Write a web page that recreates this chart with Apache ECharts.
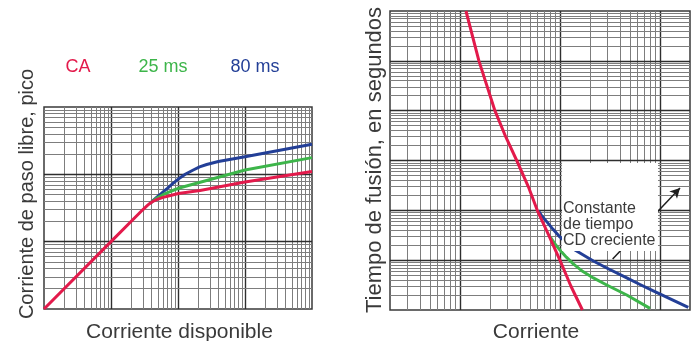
<!DOCTYPE html>
<html>
<head>
<meta charset="utf-8">
<script src="https://cdn.jsdelivr.net/npm/echarts@6/dist/echarts.min.js"></script>
<style>
  html, body { margin: 0; padding: 0; background: #fff; }
  #chart { width: 697px; height: 341px; }
</style>
</head>
<body>
<div id="chart"></div>
<script>
// ---- Left panel: peak let-through current vs. available current (log-log) ----
const caLetThroughX   = [1, 10, 30, 35, 38, 42, 48, 60, 80, 101, 213, 1000, 10000];
const caLetThroughY   = [1, 10, 30, 34.5, 37, 39.5, 42, 45.5, 49, 52, 57.5, 77, 110];
const dc25LetThroughX = [38, 42, 48, 58, 70, 85, 101, 1000, 10000];
const dc25LetThroughY = [37, 40, 44, 49, 53.5, 58, 62, 116, 177];
const dc80LetThroughX = [38, 42, 48, 55, 60, 70, 85, 101, 130, 169, 210, 268, 400, 1000, 10000];
const dc80LetThroughY = [37, 40.5, 45.5, 51, 55, 62.5, 74, 85, 101, 116, 129, 140, 155, 183, 280];

// ---- Right panel: melting time vs. current (log-log) ----
const caMeltX   = [11.5, 15.5, 22.4, 28.7, 37, 48.3, 59.4, 78.3, 100, 129, 168];
const caMeltY   = [1000, 100, 10, 3, 1, 0.3, 0.1, 0.03, 0.01, 0.003, 0.001];
const dc25MeltX = [79.6, 88, 100, 116, 136, 170, 216, 294, 466, 796];
const dc25MeltY = [0.0297, 0.022, 0.016, 0.0115, 0.0084, 0.0059, 0.0044, 0.00318, 0.002, 0.00108];
const dc80MeltX = [60.8, 66, 73.8, 85, 100, 136, 216, 294, 466, 632, 859, 1923];
const dc80MeltY = [0.0986, 0.077, 0.0593, 0.042, 0.0292, 0.0168, 0.00964, 0.00697, 0.0044, 0.00325, 0.00241, 0.00113];

// Axis extents and log-paper decades
const leftXRange  = [1, 10000];
const leftYRange  = [1, 1000];
const rightXRange = [2, 2000];
const rightYRange = [0.001, 1000];
const leftXDecades  = [1, 10, 100, 1000];
const leftYDecades  = [1, 10, 100];
const rightXDecades = [1, 10, 100, 1000];
const rightYDecades = [0.001, 0.01, 0.1, 1, 10, 100];
const minorSteps = [2, 3, 4, 5, 6, 7, 8, 9];

// Text
const seriesNames = ['CA', '25 ms', '80 ms'];
const leftXTitle  = 'Corriente disponible';
const leftYTitle  = 'Corriente de paso libre, pico';
const rightXTitle = 'Corriente';
const rightYTitle = 'Tiempo de fusión, en segundos';
const noteText    = 'Constante\nde tiempo\nCD creciente';

// Annotation anchors (data coordinates, right panel)
const noteBoxCorners = [[105, 0.895], [957, 0.0153]];
const arrowEnds = [[337, 0.0106], [1589, 0.282]];

const RED = '#e31a4b', GREEN = '#3db54a', BLUE = '#233f97';
const TEXT = '#3a3a3a';
const FONT = '"Liberation Sans", Arial, sans-serif';

const zip = (xs, ys) => xs.map((x, i) => [x, ys[i]]);

// Log-paper rulings: one segment per decade line and per 2..9 subdivision
function paperLines(xDecades, yDecades, xr, yr) {
  const inside = (v, r) => v > r[0] * 1.0001 && v < r[1] * 0.9999;
  const out = [];
  const major = { color: '#2e2e2e', width: 1.4 };
  const minor = { color: '#7d7d7d', width: 1 };
  xDecades.forEach(d => {
    if (inside(d, xr)) out.push({ coords: [[d, yr[0]], [d, yr[1]]], lineStyle: major });
    minorSteps.forEach(k => {
      const v = d * k;
      if (inside(v, xr)) out.push({ coords: [[v, yr[0]], [v, yr[1]]], lineStyle: minor });
    });
  });
  yDecades.forEach(d => {
    if (inside(d, yr)) out.push({ coords: [[xr[0], d], [xr[1], d]], lineStyle: major });
    minorSteps.forEach(k => {
      const v = d * k;
      if (inside(v, yr)) out.push({ coords: [[xr[0], v], [xr[1], v]], lineStyle: minor });
    });
  });
  return out;
}

function curve(name, data, color, axis) {
  return {
    name, type: 'line', data,
    xAxisIndex: axis, yAxisIndex: axis,
    showSymbol: false, smooth: false,
    lineStyle: { color, width: 3, join: 'round', cap: 'butt' },
    itemStyle: { color },
    z: 5, silent: true
  };
}

function rulings(data, axis) {
  return {
    type: 'lines', coordinateSystem: 'cartesian2d',
    xAxisIndex: axis, yAxisIndex: axis,
    data, silent: true, z: 1,
    lineStyle: { opacity: 1 }
  };
}

const hiddenAxis = (range, gridIndex) => ({
  type: 'log', logBase: 10, min: range[0], max: range[1], gridIndex,
  axisLine: { show: false }, axisTick: { show: false },
  axisLabel: { show: false }, splitLine: { show: false }
});

const chart = echarts.init(document.getElementById('chart'), null, { renderer: 'canvas' });

const titleText = (text, x, y, size, rot) => ({
  type: 'text', x, y, rotation: rot || 0, z: 120,
  style: { text, font: `${size}px ${FONT}`, fill: TEXT, align: 'center', verticalAlign: 'middle' }
});
const legendText = (text, x, color) => ({
  type: 'text', x, y: 67, z: 120,
  style: { text, font: `18px ${FONT}`, fill: color, align: 'center', verticalAlign: 'middle' }
});

chart.setOption({
  animation: false,
  backgroundColor: '#fff',
  grid: [
    { left: 44, top: 107, width: 268, height: 202, show: true, borderColor: '#3a3a3a', borderWidth: 1.5, backgroundColor: '#fff' },
    { left: 390, top: 11, width: 300, height: 299, show: true, borderColor: '#3a3a3a', borderWidth: 1.5, backgroundColor: '#fff' }
  ],
  xAxis: [hiddenAxis(leftXRange, 0), hiddenAxis(rightXRange, 1)],
  yAxis: [hiddenAxis(leftYRange, 0), hiddenAxis(rightYRange, 1)],
  series: [
    rulings(paperLines(leftXDecades, leftYDecades, leftXRange, leftYRange), 0),
    rulings(paperLines(rightXDecades, rightYDecades, rightXRange, rightYRange), 1),
    curve(seriesNames[2], zip(dc80LetThroughX, dc80LetThroughY), BLUE, 0),
    curve(seriesNames[1], zip(dc25LetThroughX, dc25LetThroughY), GREEN, 0),
    curve(seriesNames[0], zip(caLetThroughX, caLetThroughY), RED, 0),
    Object.assign(curve(seriesNames[2], zip(dc80MeltX, dc80MeltY), BLUE, 1), {
      markLine: {
        silent: true, animation: false,
        symbol: ['none', 'arrow'], symbolSize: [8, 10],
        label: { show: false },
        lineStyle: { color: '#1e1e1e', width: 1.5, type: 'solid' },
        data: [[{ coord: arrowEnds[0] }, { coord: arrowEnds[1] }]]
      }
    }),
    curve(seriesNames[1], zip(dc25MeltX, dc25MeltY), GREEN, 1),
    curve(seriesNames[0], zip(caMeltX, caMeltY), RED, 1)
  ]
});

// Note box placed from data coordinates of the right panel
const p0 = chart.convertToPixel({ gridIndex: 1 }, noteBoxCorners[0]);
const p1 = chart.convertToPixel({ gridIndex: 1 }, noteBoxCorners[1]);

chart.setOption({
  graphic: [
    legendText(seriesNames[0], 78, RED),
    legendText(seriesNames[1], 163, GREEN),
    legendText(seriesNames[2], 255, BLUE),
    titleText(leftXTitle, 179.5, 332, 21),
    titleText(leftYTitle, 27, 194, 20, Math.PI / 2),
    titleText(rightXTitle, 536, 332, 21),
    titleText(rightYTitle, 375, 160, 22, Math.PI / 2),
    {
      type: 'rect', z: 100,
      shape: { x: p0[0], y: p0[1], width: p1[0] - p0[0], height: p1[1] - p0[1] },
      style: { fill: '#fff' }
    },
    {
      type: 'text', z: 110, x: p0[0] + 1, y: p0[1] + 38,
      style: { text: noteText, font: `16px ${FONT}`, lineHeight: 16, fill: TEXT, align: 'left', verticalAlign: 'top' }
    }
  ]
});
</script>
</body>
</html>
